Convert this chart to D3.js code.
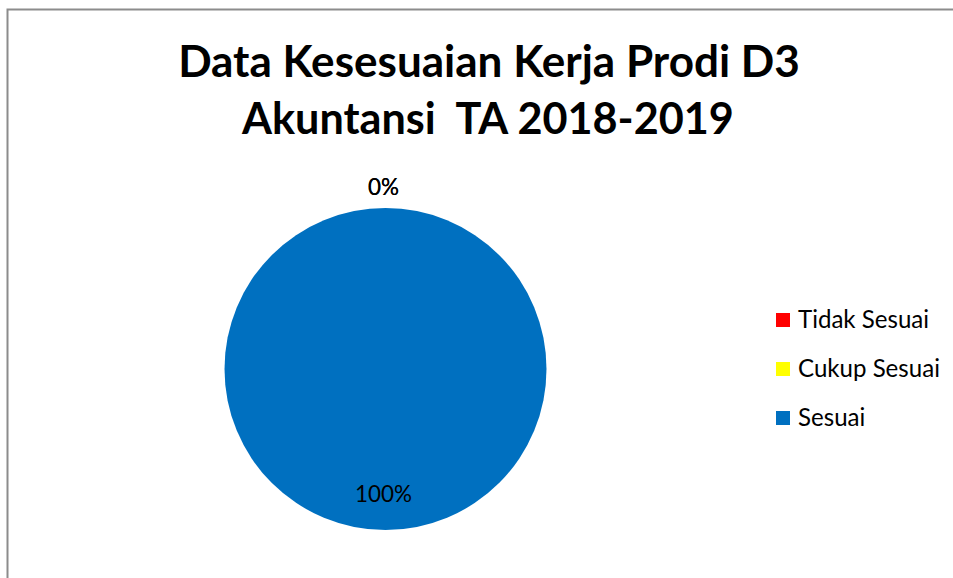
<!DOCTYPE html>
<html><head><meta charset="utf-8">
<script src="https://cdn.jsdelivr.net/npm/d3@7"></script>
<style>html,body{margin:0;padding:0;background:#fff;}svg{display:block;}text{white-space:pre;}</style>
</head><body>
<svg id="c" width="953" height="578"></svg>
<script>
const categories = ["Tidak Sesuai", "Cukup Sesuai", "Sesuai"];
const values = [0, 0, 100];
const colors = ["#FF0000", "#FFFF00", "#0070C0"];
const titleLines = ["Data Kesesuaian Kerja Prodi D3", "Akuntansi  TA 2018-2019"];

const svg = d3.select("#c");
svg.append("rect").attr("x", 7.5).attr("y", 9.5).attr("width", 960).attr("height", 600)
  .attr("fill", "#fff").attr("stroke", "#8c8c8c").attr("stroke-width", 2);

const font = "Lato, 'Open Sans', sans-serif";
function fit(sel, target) {
  const w = sel.node().getComputedTextLength();
  const fs = parseFloat(sel.attr("font-size"));
  sel.attr("font-size", fs * target / w);
}

// Title
const t1 = svg.append("text").attr("x", 489).attr("y", 77).attr("text-anchor", "middle")
  .attr("font-family", font).attr("font-weight", "bold").attr("font-size", 40).attr("fill", "#000").text(titleLines[0]);
fit(t1, 622);
const t2 = svg.append("text").attr("x", 488).attr("y", 134).attr("text-anchor", "middle")
  .attr("font-family", font).attr("font-weight", "bold").attr("font-size", 40).attr("fill", "#000").text(titleLines[1]);
fit(t2, 492);

// Pie
const cx = 385.5, cy = 369, r = 161;
const pie = d3.pie().sort(null).value(d => d)(values);
const arc = d3.arc().innerRadius(0).outerRadius(r);
const g = svg.append("g").attr("transform", `translate(${cx},${cy})`);
g.selectAll("path").data(pie).join("path").attr("d", arc).attr("fill", (d, i) => colors[i]);

const inArc = d3.arc().innerRadius(r * 0.78).outerRadius(r * 0.78);
const outArc = d3.arc().innerRadius(r + 21).outerRadius(r + 21);
const total = d3.sum(values);
const labels = g.selectAll("text.lbl").data(pie).join("text").attr("class", "lbl")
  .attr("transform", d => {
    const c = (d.value > 0 ? inArc : outArc).centroid(d);
    return `translate(${c[0] - 2},${c[1]})`;
  })
  .attr("dy", "0.35em").attr("text-anchor", "middle")
  .attr("font-family", font).attr("font-size", 20).attr("fill", "#000")
  .text(d => Math.round(d.value / total * 100) + "%");
const big = labels.filter(d => d.value > 0);
fit(big, 57);
labels.attr("font-size", big.attr("font-size"));

// Legend
const lg = svg.append("g");
const ly = [320, 369, 418];
categories.forEach((c, i) => {
  lg.append("rect").attr("x", 776).attr("y", ly[i] - 7).attr("width", 14).attr("height", 14).attr("fill", colors[i]);
  const t = lg.append("text").attr("x", 798).attr("y", ly[i]).attr("dy", "0.35em")
    .attr("font-family", font).attr("font-size", 20).attr("fill", "#000").text(c);
  if (i === 1) { fit(t, 142); }
});
const fs = lg.selectAll("text").filter((d, i) => i === 1).attr("font-size");
lg.selectAll("text").attr("font-size", fs);
</script>
</body></html>
